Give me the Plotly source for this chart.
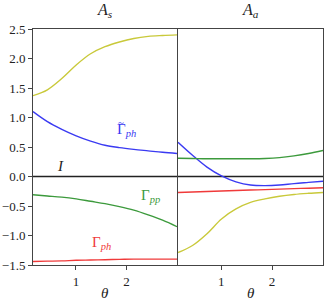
import plotly.graph_objects as go
from plotly.subplots import make_subplots

theta = [0.15, 0.435, 0.72, 1.005, 1.29, 1.575, 1.86, 2.145, 2.43, 2.715, 3.0]

# Left panel (A_s)
s_yellow = [1.37, 1.47, 1.66, 1.89, 2.08, 2.20, 2.28, 2.34, 2.375, 2.39, 2.40]
s_blue = [1.10, 0.93, 0.80, 0.69, 0.60, 0.53, 0.49, 0.46, 0.435, 0.41, 0.39]
s_green = [-0.31, -0.33, -0.35, -0.38, -0.42, -0.46, -0.51, -0.57, -0.65, -0.74, -0.85]
s_red = [-1.44, -1.435, -1.43, -1.42, -1.415, -1.41, -1.405, -1.40, -1.40, -1.40, -1.40]

# Right panel (A_a)
a_yellow = [-1.29, -1.17, -0.97, -0.72, -0.55, -0.44, -0.38, -0.335, -0.305, -0.285, -0.27]
a_blue = [0.58, 0.36, 0.16, 0.01, -0.09, -0.145, -0.155, -0.145, -0.12, -0.10, -0.08]
a_green = [0.31, 0.305, 0.30, 0.30, 0.30, 0.30, 0.305, 0.32, 0.35, 0.39, 0.44]
a_red = [-0.27, -0.262, -0.254, -0.246, -0.238, -0.23, -0.222, -0.214, -0.206, -0.198, -0.19]

identity = [0.0] * len(theta)

y_ticks = [-1.5, -1.0, -0.5, 0.0, 0.5, 1.0, 1.5, 2.0, 2.5]
x_ticks = [1, 2]

YEL = "#c9c93a"
BLU = "#3a3af2"
GRN = "#3c9a3c"
RED = "#f03a3a"
FONT = "Liberation Serif, Times New Roman, serif"

fig = make_subplots(rows=1, cols=2, shared_yaxes=True, horizontal_spacing=0.0)

def add(col, y, color, width=1.4):
    fig.add_trace(go.Scatter(x=theta, y=y, mode="lines", line=dict(color=color, width=width, shape="spline", smoothing=1.0),
                             showlegend=False, hoverinfo="skip"), row=1, col=col)

for col, (yy, bb, gg, rr) in ((1, (s_yellow, s_blue, s_green, s_red)), (2, (a_yellow, a_blue, a_green, a_red))):
    add(col, identity, "#222222", 1.6)
    add(col, yy, YEL)
    add(col, bb, BLU)
    add(col, gg, GRN)
    add(col, rr, RED)

axis_common = dict(showgrid=False, zeroline=False, showline=True, mirror=True, linecolor="#444444", linewidth=1,
                   ticks="outside", ticklen=4, tickcolor="#444444", automargin=False,
                   tickfont=dict(family=FONT, size=13, color="#222222"))

fig.update_xaxes(range=[0.15, 3.0], tickvals=x_ticks, **axis_common)
fig.update_yaxes(range=[-1.5, 2.5], tickvals=y_ticks, tickformat=".1f", **axis_common)
fig.update_yaxes(ticks="", row=1, col=2)

fig.update_layout(
    width=332, height=299,
    margin=dict(l=33, r=9, t=29, b=34),
    plot_bgcolor="white", paper_bgcolor="white",
    font=dict(family=FONT, size=13, color="#222222"),
)
fig.layout.xaxis.domain = [0, 144 / 290]
fig.layout.xaxis2.domain = [145 / 290, 1]

ann = [
    dict(text="<i>A<sub>s</sub></i>", x=0.5, xref="x domain", y=1.03, yref="paper", yanchor="bottom",
         showarrow=False, font=dict(family=FONT, size=16)),
    dict(text="<i>A<sub>a</sub></i>", x=0.5, xref="x2 domain", y=1.03, yref="paper", yanchor="bottom",
         showarrow=False, font=dict(family=FONT, size=16)),
    dict(text="<i>θ</i>", x=0.5, xref="x domain", y=-0.075, yref="paper", yanchor="top",
         showarrow=False, font=dict(family=FONT, size=15)),
    dict(text="<i>θ</i>", x=0.5, xref="x2 domain", y=-0.075, yref="paper", yanchor="top",
         showarrow=False, font=dict(family=FONT, size=15)),
    dict(text="Γ<sub><i>ph</i></sub>", x=1.77, y=0.78, xref="x", yref="y", xanchor="left", showarrow=False,
         font=dict(family=FONT, size=15, color=BLU)),
    dict(text="~", x=1.79, y=0.93, xref="x", yref="y", xanchor="left", showarrow=False,
         font=dict(family=FONT, size=11, color=BLU)),
    dict(text="Γ<sub><i>pp</i></sub>", x=2.47, y=-0.33, xref="x", yref="y", showarrow=False,
         font=dict(family=FONT, size=15, color=GRN)),
    dict(text="Γ<sub><i>ph</i></sub>", x=1.5, y=-1.12, xref="x", yref="y", showarrow=False,
         font=dict(family=FONT, size=15, color=RED)),
    dict(text="<i>I</i>", x=0.69, y=0.17, xref="x", yref="y", showarrow=False,
         font=dict(family=FONT, size=15, color="#222222")),
]
fig.update_layout(annotations=ann)

fig.write_html("out.html", config={"displayModeBar": False},
               post_script="document.body.style.margin='0';document.body.style.padding='0';")
